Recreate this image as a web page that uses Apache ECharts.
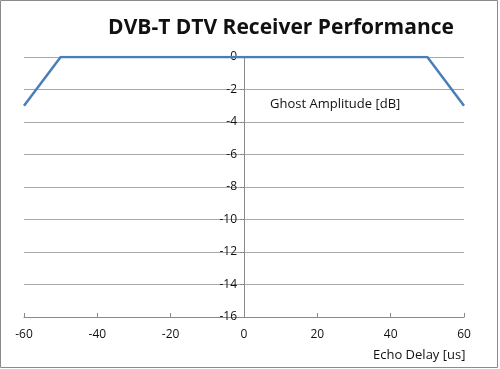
<!DOCTYPE html>
<html><head><meta charset="utf-8">
<script src="https://cdn.jsdelivr.net/npm/echarts@6/dist/echarts.min.js"></script>
<style>html,body{margin:0;padding:0;background:#fff}#c{width:500px;height:369px}</style>
</head><body><div id="c"></div>
<script>
const title = "DVB-T DTV Receiver Performance";
const xName = "Echo Delay [us]";
const yName = "Ghost Amplitude [dB]";
const echoDelay = [-60, -50, 50, 60];
const ghostAmplitude = [-3, 0, 0, -3];
const xTicks = [-60, -40, -20, 0, 20, 40, 60];
const yTicks = [0, -2, -4, -6, -8, -10, -12, -14, -16];

const chart = echarts.init(document.getElementById('c'));
const font = "'Open Sans', 'DejaVu Sans', sans-serif";
chart.setOption({
  animation: false,
  title: {text: title, left: 276, top: 13, textAlign: 'center',
    textStyle: {fontFamily: font, fontSize: 21, fontWeight: 'bold', color: '#111'}},
  grid: {left: 24, right: 36, top: 57, bottom: 52},
  graphic: [
    {type: 'rect', shape: {x: 0.5, y: 0.5, width: 497, height: 367}, style: {fill: 'none', stroke: '#8a8a8a', lineWidth: 1}, silent: true},
    {type: 'text', left: 270, top: 98, style: {text: yName, font: "13px " + font, fill: '#111'}},
    {type: 'text', left: 373, top: 349, style: {text: xName, font: "13px " + font, fill: '#111'}}
  ],
  xAxis: {type: 'value', min: -60, max: 60, interval: 20,
    axisLine: {onZero: false, lineStyle: {color: '#8a8a8a'}},
    axisTick: {show: true, inside: true, length: 4, lineStyle: {color: '#8a8a8a'}},
    axisLabel: {color: '#111', fontFamily: font, fontSize: 12, margin: 12,
      formatter: v => xTicks.includes(v) ? String(v) : ''},
    splitLine: {show: false}},
  yAxis: {type: 'value', min: -16, max: 0, interval: 2, offset: -220,
    axisLine: {show: true, onZero: false, lineStyle: {color: '#8a8a8a'}},
    axisTick: {show: true, length: 4, lineStyle: {color: '#8a8a8a'}},
    axisLabel: {color: '#111', fontFamily: font, fontSize: 12, margin: 7,
      formatter: v => yTicks.includes(v) ? String(v) : ''},
    splitLine: {show: true, lineStyle: {color: '#a8a8a8'}}},
  series: [{type: 'line', data: echoDelay.map((x, i) => [x, ghostAmplitude[i]]),
    showSymbol: false, lineStyle: {color: '#4a7ebb', width: 2.5}}]
});
</script></body></html>
